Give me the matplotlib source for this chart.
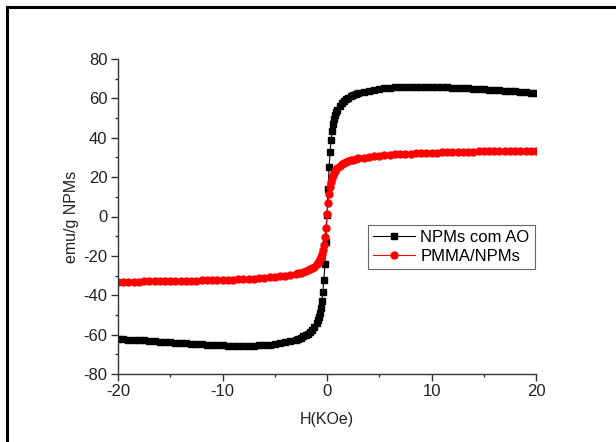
import matplotlib
matplotlib.use("Agg")
import matplotlib.pyplot as plt
from matplotlib.lines import Line2D
from matplotlib.ticker import MultipleLocator

plt.rcParams['font.family'] = ['Liberation Sans', 'DejaVu Sans']
plt.rcParams['axes.unicode_minus'] = False

# campo aplicado (kOe) - mesmo passo para as duas amostras
campo_pos = [0.1, 0.2, 0.3, 0.4, 0.5, 0.6, 0.7, 0.8, 0.9, 1.0,
             1.2, 1.4, 1.6, 1.8, 2.0, 2.25, 2.5, 2.75, 3.0, 3.5,
             4.0, 4.5, 5.0, 5.5, 6.0, 6.5, 7.0, 7.5, 8.0, 8.5,
             9.0, 9.5, 10.0, 10.5, 11.0, 11.5, 12.0, 12.5, 13.0, 13.5,
             14.0, 14.5, 15.0, 15.5, 16.0, 16.5, 17.0, 17.5, 18.0, 18.5,
             19.0, 19.5, 20.0]

# magnetizacao (emu/g) - NPMs com AO
npm_pos = [14.0, 25.0, 33.0, 39.0, 43.5, 47.0, 49.5, 51.5, 53.0, 54.3,
           56.2, 57.6, 58.7, 59.6, 60.3, 61.0, 61.6, 62.1, 62.6, 63.3,
           63.9, 64.4, 64.8, 65.1, 65.4, 65.6, 65.7, 65.8, 65.9, 65.9,
           65.9, 65.9, 65.8, 65.8, 65.7, 65.6, 65.5, 65.4, 65.3, 65.1,
           65.0, 64.8, 64.7, 64.5, 64.3, 64.1, 63.9, 63.7, 63.5, 63.3,
           63.1, 62.9, 62.7]
npm_neg = [-13.0, -24.0, -32.0, -38.5, -43.0, -46.5, -49.0, -51.2, -52.8, -54.0,
           -56.0, -57.5, -58.6, -59.5, -60.2, -60.9, -61.5, -62.1, -62.6, -63.3,
           -63.9, -64.4, -64.8, -65.1, -65.3, -65.5, -65.6, -65.7, -65.7, -65.7,
           -65.7, -65.6, -65.5, -65.4, -65.3, -65.2, -65.0, -64.9, -64.7, -64.5,
           -64.3, -64.1, -63.9, -63.7, -63.5, -63.3, -63.1, -62.9, -62.7, -62.6,
           -62.5, -62.4, -62.3]
npm_zero = 1.0

# magnetizacao (emu/g) - PMMA/NPMs
pmma_pos = [7.0, 11.5, 15.0, 17.5, 19.5, 21.0, 22.2, 23.2, 24.0, 24.7,
            25.8, 26.6, 27.2, 27.7, 28.1, 28.5, 28.9, 29.2, 29.5, 29.9,
            30.3, 30.6, 30.9, 31.1, 31.3, 31.5, 31.7, 31.8, 32.0, 32.1,
            32.2, 32.3, 32.4, 32.5, 32.6, 32.7, 32.8, 32.8, 32.9, 33.0,
            33.0, 33.1, 33.1, 33.2, 33.2, 33.3, 33.3, 33.4, 33.4, 33.4,
            33.5, 33.5, 33.5]
pmma_neg = [-6.0, -10.5, -14.5, -17.0, -19.0, -20.6, -21.8, -22.8, -23.6, -24.3,
            -25.4, -26.2, -26.8, -27.3, -27.7, -28.1, -28.5, -28.8, -29.1, -29.6,
            -30.0, -30.4, -30.7, -30.9, -31.1, -31.3, -31.5, -31.6, -31.8, -31.9,
            -32.0, -32.1, -32.2, -32.3, -32.4, -32.5, -32.5, -32.6, -32.7, -32.7,
            -32.8, -32.8, -32.9, -32.9, -32.9, -33.0, -33.0, -33.0, -33.1, -33.1,
            -33.1, -33.1, -33.2]
pmma_zero = 1.5

label_01 = "NPMs com AO"
label_02 = "PMMA/NPMs"


def monta_curva(pos, neg, zero):
    # junta ramo negativo (de -20 ate 0) e positivo (de 0 ate 20)
    h = [-v for v in reversed(campo_pos)] + [0.0] + campo_pos
    m = list(reversed(neg)) + [zero] + pos
    return h, m


h1, m1 = monta_curva(npm_pos, npm_neg, npm_zero)
h2, m2 = monta_curva(pmma_pos, pmma_neg, pmma_zero)

fig = plt.figure(figsize=(6.16, 4.42), dpi=100)
ax = fig.add_axes([118 / 616, 1 - 374 / 442, 418 / 616, 315 / 442])

ax.plot(h1, m1, linestyle="-", linewidth=0.8, c='black', marker='s',
        markersize=4.3, label=label_01)
ax.plot(h2, m2, linestyle="-", linewidth=0.8, c='red', marker='o',
        markersize=5.0, label=label_02)

ax.set_xlim(-20, 20)
ax.set_ylim(-80, 80)
ax.xaxis.set_major_locator(MultipleLocator(10))
ax.xaxis.set_minor_locator(MultipleLocator(5))
ax.yaxis.set_major_locator(MultipleLocator(20))
ax.yaxis.set_minor_locator(MultipleLocator(10))

for lado in ['top', 'right']:
    ax.spines[lado].set_visible(False)
for lado in ['left', 'bottom']:
    ax.spines[lado].set_color('#333333')
    ax.spines[lado].set_linewidth(1.0)

ax.tick_params(which='major', direction='out', length=5, width=1,
               color='#333333', labelsize=12, labelcolor='#222222', pad=2.5)
ax.tick_params(which='minor', direction='out', length=2.5, width=1,
               color='#333333')

ax.set_xlabel("H(KOe)", fontsize=11.5, color='#222222', labelpad=9)
ax.set_ylabel("emu/g NPMs", fontsize=11.5, color='#222222', labelpad=3)

leg = ax.legend(loc='upper left', bbox_to_anchor=(0.598, 0.473),
                fontsize=12, fancybox=False, framealpha=1,
                edgecolor='#666666', handlelength=2.5, handletextpad=0.35,
                borderpad=0.3, labelspacing=0.25, borderaxespad=0)
leg.get_frame().set_linewidth(0.8)

# moldura da figura (so topo e lado esquerdo aparecem)
fig.add_artist(Line2D([7 / 616, 1.0], [1 - 7 / 442, 1 - 7 / 442],
                      transform=fig.transFigure, color='black', linewidth=2.2))
fig.add_artist(Line2D([7 / 616, 7 / 616], [0.0, 1 - 7 / 442],
                      transform=fig.transFigure, color='black', linewidth=2.2))

plt.savefig("out.png", dpi=100)
